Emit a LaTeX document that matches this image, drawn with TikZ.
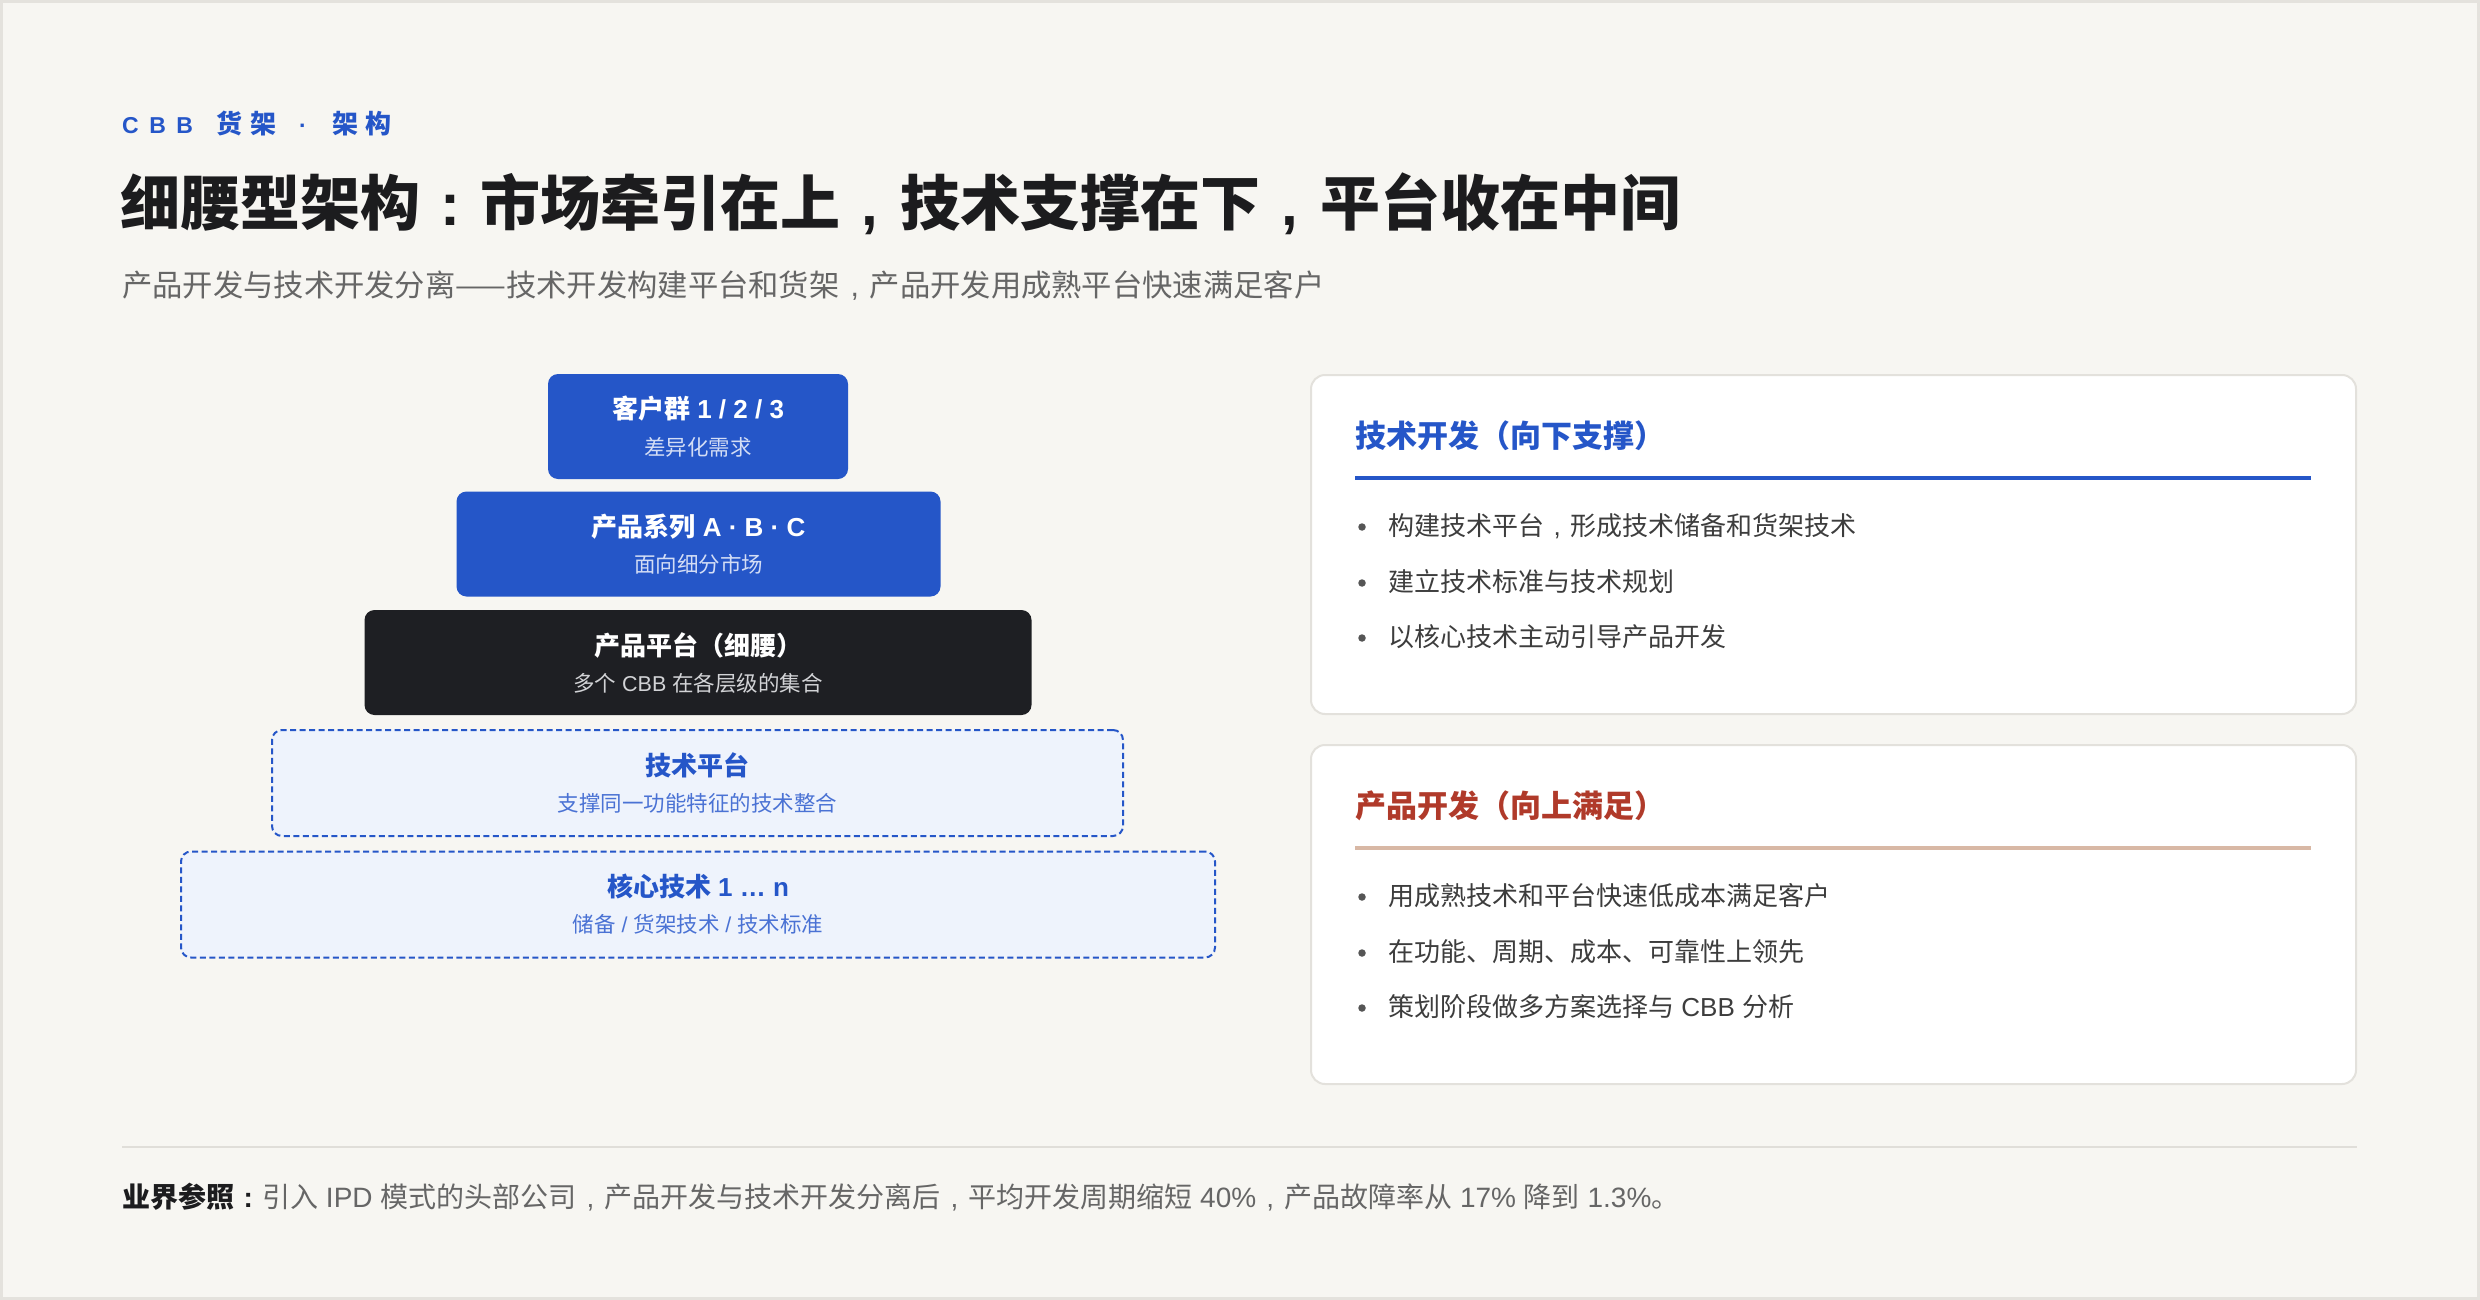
\documentclass[tikz,border=0pt]{standalone}
\usepackage{fontspec}
\setmainfont{Noto Sans CJK SC}
\newfontfamily\latf{Liberation Sans}
\newcommand{\lat}[1]{{\latf #1}}
\newcommand{\zcomma}{\makebox[1em]{\latf ,}}
\newcommand{\zcolon}{\makebox[1em]{\latf :}}
\definecolor{bg}{HTML}{F7F6F2}
\definecolor{framec}{HTML}{E4E2DD}
\definecolor{cbblue}{HTML}{2556C8}
\definecolor{cbdark}{HTML}{1E1F23}
\definecolor{cblight}{HTML}{EEF3FC}
\definecolor{subonblue}{HTML}{D3DDF5}
\definecolor{subondark}{HTML}{D2D3D6}
\definecolor{subonlight}{HTML}{4A72D4}
\definecolor{ink}{HTML}{1C1C1E}
\definecolor{graytext}{HTML}{666666}
\definecolor{bullettext}{HTML}{3D3D3D}
\definecolor{bulletdot}{HTML}{555555}
\definecolor{cardline}{HTML}{E3E1DC}
\definecolor{redtitle}{HTML}{B03A2A}
\definecolor{tanrule}{HTML}{D8B8A5}
\definecolor{footrule}{HTML}{E0DED9}
\tikzset{
  layer/.style={rounded corners=10pt, minimum height=105pt, inner sep=0pt, outer sep=0pt},
  solidblue/.style={layer, fill=cbblue},
  solidblack/.style={layer, fill=cbdark},
  dashblue/.style={layer, fill=cblight, draw=cbblue, line width=2pt, dash pattern=on 6pt off 3.5pt, minimum height=106pt},
  ttl/.style={font=\fontsize{26}{30}\selectfont\bfseries, inner sep=0pt},
  subt/.style={font=\fontsize{21.5}{25}\selectfont, inner sep=0pt},
  card/.style={rounded corners=14pt, fill=white, draw=cardline, line width=2pt, minimum width=1045pt, minimum height=339pt, inner sep=0pt},
  cardtitle/.style={anchor=west, font=\fontsize{31}{35}\selectfont\bfseries, inner sep=0pt},
  bul/.style={anchor=west, font=\fontsize{26}{30}\selectfont, text=bullettext, inner sep=0pt},
  dot/.style={circle, fill=bulletdot, inner sep=0pt, minimum size=7.5pt},
}
\begin{document}
\begin{tikzpicture}[x=1pt,y=-1pt]
\useasboundingbox (0,0) rectangle (2480,1300);
\fill[bg] (0,0) rectangle (2480,1300);
\draw[framec, line width=3pt] (1.5,1.5) rectangle (2478.5,1298.5);

% header
\node[anchor=west, inner sep=0pt, text=cbblue, font=\bfseries] (kicker) at (122,124)
  {\fontsize{23}{26}\selectfont\lat{C\kern10.5pt B\kern10.5pt B}\kern23pt{\fontsize{26}{28}\selectfont 货\kern8pt 架}\kern23pt\lat{·}\kern25.5pt{\fontsize{26}{28}\selectfont 架\kern7pt 构}};
\node[anchor=west, inner sep=0pt, text=ink, font=\fontsize{60}{66}\selectfont\bfseries] (title) at (120,204)
  {细腰型架构\zcolon 市场牵引在上\zcomma 技术支撑在下\zcomma 平台收在中间};
\node[anchor=west, inner sep=0pt, text=graytext, font=\fontsize{30.3}{34}\selectfont] (subtitle) at (122,286)
  {产品开发与技术开发分离——技术开发构建平台和货架\zcomma 产品开发用成熟平台快速满足客户};

% pyramid
\node[solidblue, minimum width=300pt] (L1) at (698,426.5) {};
\node[ttl, text=white] (L1t) at ([yshift=17.5pt]L1.center) {客户群\lat{ 1 / 2 / 3}};
\node[subt, text=subonblue] (L1s) at ([yshift=-20.5pt]L1.center) {差异化需求};

\node[solidblue, minimum width=484pt] (L2) at (698.5,544) {};
\node[ttl, text=white] (L2t) at ([yshift=17.5pt]L2.center) {产品系列\lat{ A · B · C}};
\node[subt, text=subonblue] (L2s) at ([yshift=-20.5pt]L2.center) {面向细分市场};

\node[solidblack, minimum width=667pt] (L3) at (698,662.5) {};
\node[ttl, text=white] (L3t) at ([yshift=17.5pt]L3.center) {产品平台（细腰）};
\node[subt, text=subondark] (L3s) at ([yshift=-20.5pt]L3.center) {多个\lat{ CBB }在各层级的集合};

\node[dashblue, minimum width=851pt] (L4) at (697.5,783) {};
\node[ttl, text=cbblue] (L4t) at ([yshift=18pt]L4.center) {技术平台};
\node[subt, text=subonlight] (L4s) at ([yshift=-20pt]L4.center) {支撑同一功能特征的技术整合};

\node[dashblue, minimum width=1034pt] (L5) at (698,904.5) {};
\node[ttl, text=cbblue] (L5t) at ([yshift=18pt]L5.center) {核心技术\lat{ 1 … n}};
\node[subt, text=subonlight] (L5s) at ([yshift=-20pt]L5.center) {储备\lat{ / }货架技术\lat{ / }技术标准};

% card 1
\node[card] (C1) at (1833.5,544.5) {};
\node[cardtitle, text=cbblue] (C1t) at (1355,436) {技术开发（向下支撑）};
\coordinate (C1a) at (1355,478);
\coordinate (C1b) at (2311,478);
\draw[cbblue, line width=4pt] (C1a) -- (C1b);
\node[dot] (C1d1) at (1362,527) {};
\node[bul] (C1b1) at (1388,526) {构建技术平台\zcomma 形成技术储备和货架技术};
\node[dot] (C1d2) at (1362,583) {};
\node[bul] (C1b2) at (1388,582) {建立技术标准与技术规划};
\node[dot] (C1d3) at (1362,638) {};
\node[bul] (C1b3) at (1388,637) {以核心技术主动引导产品开发};

% card 2
\node[card] (C2) at (1833.5,914.5) {};
\node[cardtitle, text=redtitle] (C2t) at (1355,806) {产品开发（向上满足）};
\coordinate (C2a) at (1355,848);
\coordinate (C2b) at (2311,848);
\draw[tanrule, line width=4pt] (C2a) -- (C2b);
\node[dot] (C2d1) at (1362,897) {};
\node[bul] (C2b1) at (1388,896) {用成熟技术和平台快速低成本满足客户};
\node[dot] (C2d2) at (1362,953) {};
\node[bul] (C2b2) at (1388,952) {在功能、周期、成本、可靠性上领先};
\node[dot] (C2d3) at (1362,1008) {};
\node[bul] (C2b3) at (1388,1007) {策划阶段做多方案选择与\lat{ CBB }分析};

% footer
\coordinate (F1) at (122,1147);
\coordinate (F2) at (2357,1147);
\draw[footrule, line width=2pt] (F1) -- (F2);
\node[anchor=west, inner sep=0pt, font=\fontsize{28}{31}\selectfont] (foot) at (122,1197)
  {{\bfseries\color{ink}业界参照\zcolon}\color{graytext}引入\lat{ IPD }模式的头部公司\zcomma 产品开发与技术开发分离后\zcomma 平均开发周期缩短\lat{ 40\%}\zcomma 产品故障率从\lat{ 17\% }降到\lat{ 1.3\%}。};
\end{tikzpicture}
\end{document}
